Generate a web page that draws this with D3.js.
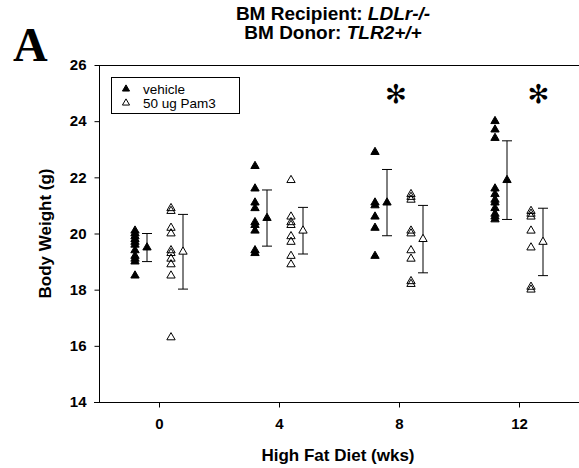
<!DOCTYPE html>
<html>
<head>
<meta charset="utf-8">
<script src="https://cdn.jsdelivr.net/npm/d3@7/dist/d3.min.js"></script>
<style>
  html, body { margin: 0; padding: 0; background: #fff; }
  svg { display: block; }
  text { font-family: Arial, "Liberation Sans", sans-serif; }
</style>
</head>
<body>
<script>
// Body weight per animal at each time point on high fat diet
const weeks = [0, 4, 8, 12];
const vehicle = [
  [20.1, 20.0, 19.9, 19.8, 19.7, 19.6, 19.4, 19.2, 19.1, 19.0, 18.5],
  [22.4, 21.6, 21.1, 20.9, 20.4, 20.3, 20.1, 19.4, 19.3],
  [22.9, 21.1, 21.0, 20.6, 20.2, 19.2],
  [24.0, 23.7, 23.4, 21.6, 21.4, 21.2, 21.1, 20.9, 20.7, 20.6, 20.5]
];
const pam3 = [
  [20.9, 20.8, 20.2, 20.0, 19.4, 19.3, 19.1, 18.9, 18.5, 16.3],
  [21.9, 20.6, 20.4, 20.3, 19.9, 19.7, 19.2, 18.9],
  [21.4, 21.3, 21.2, 20.1, 20.0, 19.4, 19.1, 18.3, 18.2],
  [20.8, 20.7, 20.6, 20.1, 19.5, 18.1, 18.0]
];
// Group means and standard deviations
const vehicleMean = [19.5, 20.55, 21.1, 21.9];
const vehicleSD   = [0.5, 1.0, 1.18, 1.4];
const pam3Mean    = [19.35, 20.1, 19.8, 19.7];
const pam3SD      = [1.33, 0.83, 1.2, 1.2];
// Time points with a significant difference
const sigWeeks = [8, 12];
const sigOffset = [-0.1, 0.65];
const yTicks = [14, 16, 18, 20, 22, 24, 26];

const W = 579, H = 468;
const svg = d3.select("body").append("svg").attr("width", W).attr("height", H);

const x = d3.scaleLinear().domain([-2, 14]).range([99, 579]);
const y = d3.scaleLinear().domain([14, 26]).range([402, 65]);

// Panel letter
svg.append("text").attr("x", 13).attr("y", 61)
  .style("font-family", "'Liberation Serif', 'Times New Roman', serif")
  .style("font-weight", "bold").style("font-size", "48px").text("A");

// Title
const t1 = svg.append("text").attr("x", 333).attr("y", 20).attr("text-anchor", "middle")
  .style("font-weight", "bold").style("font-size", "19px");
t1.append("tspan").text("BM Recipient: ");
t1.append("tspan").style("font-style", "italic").text("LDLr-/-");
const t2 = svg.append("text").attr("x", 333).attr("y", 39).attr("text-anchor", "middle")
  .style("font-weight", "bold").style("font-size", "19px");
t2.append("tspan").text("BM Donor: ");
t2.append("tspan").style("font-style", "italic").text("TLR");
t2.append("tspan").style("font-style", "italic").text("2+/+");

// Frame: top rule
svg.append("line").attr("x1", 99).attr("x2", W).attr("y1", y(26) + 0.5).attr("y2", y(26) + 0.5)
  .attr("stroke", "#000").attr("stroke-width", 1);

// Axes
const yAxis = d3.axisLeft(y).tickValues(yTicks).tickSize(5).tickPadding(8).tickFormat(d3.format("d"));
const gy = svg.append("g").attr("transform", "translate(99.5,0)").call(yAxis);
const xAxis = d3.axisBottom(x).tickValues(weeks).tickSize(5).tickPadding(11).tickFormat(d3.format("d"));
const gx = svg.append("g").attr("transform", "translate(0,402.5)").call(xAxis);
[gx, gy].forEach(g => {
  g.select(".domain").attr("stroke", "#000");
  g.selectAll("text").style("font-weight", "bold").style("font-size", "15px")
    .style("font-family", "Arial, 'Liberation Sans', sans-serif").attr("fill", "#000");
  g.selectAll(".tick line").attr("stroke", "#000");
});
gy.select(".domain").attr("d", `M0,${y(26)}V${y(14)}`);
gx.select(".domain").attr("d", `M94,0H${W}`);

// Axis titles
svg.append("text").attr("x", 338).attr("y", 461).attr("text-anchor", "middle")
  .style("font-weight", "bold").style("font-size", "17px").text("High Fat Diet (wks)");
svg.append("text").attr("transform", `translate(51,${y(20)}) rotate(-90)`).attr("text-anchor", "middle")
  .style("font-weight", "bold").style("font-size", "17px").text("Body Weight (g)");

const tri = d3.symbol().type(d3.symbolTriangle).size(30);
const triSmall = d3.symbol().type(d3.symbolTriangle).size(22);

function drawGroup(values, means, sds, ptOff, meanOff, filled) {
  const g = svg.append("g");
  weeks.forEach((w, i) => {
    // individual animals
    g.selectAll(null).data(values[i]).join("path")
      .attr("d", tri)
      .attr("transform", d => `translate(${x(w + ptOff)},${y(d)})`)
      .attr("fill", filled ? "#000" : "none")
      .attr("stroke", "#000").attr("stroke-width", 1);
    // mean +/- SD
    const cx = x(w + meanOff);
    const top = y(means[i] + sds[i]), bot = y(means[i] - sds[i]);
    g.append("line").attr("x1", cx).attr("x2", cx).attr("y1", top).attr("y2", bot)
      .attr("stroke", "#000");
    [top, bot].forEach(yy => g.append("line")
      .attr("x1", cx - 5).attr("x2", cx + 5).attr("y1", yy).attr("y2", yy).attr("stroke", "#000"));
    g.append("path").attr("d", tri)
      .attr("transform", `translate(${cx},${y(means[i])})`)
      .attr("fill", filled ? "#000" : "#fff").attr("stroke", "#000");
  });
}
drawGroup(vehicle, vehicleMean, vehicleSD, -0.8, -0.4, true);
drawGroup(pam3, pam3Mean, pam3SD, 0.4, 0.8, false);

// Significance markers
svg.selectAll(null).data(sigWeeks).join("text")
  .attr("x", (d, i) => x(d + sigOffset[i])).attr("y", 103).attr("text-anchor", "middle")
  .style("font-family", "'DejaVu Sans', sans-serif").style("font-size", "26px").style("font-weight", "bold")
  .text("\u273B");

// Legend
const lg = svg.append("g");
lg.append("rect").attr("x", 111.5).attr("y", 77.5).attr("width", 128).attr("height", 36)
  .attr("fill", "#fff").attr("stroke", "#000");
const legendItems = [{label: "vehicle", filled: true}, {label: "50 ug Pam3", filled: false}];
legendItems.forEach((it, i) => {
  const yy = 89 + i * 14;
  lg.append("path").attr("d", triSmall).attr("transform", `translate(126,${yy})`)
    .attr("fill", it.filled ? "#000" : "none").attr("stroke", "#000");
  lg.append("text").attr("x", 143).attr("y", yy + 5).style("font-size", "13.5px").text(it.label);
});
</script>
</body>
</html>
